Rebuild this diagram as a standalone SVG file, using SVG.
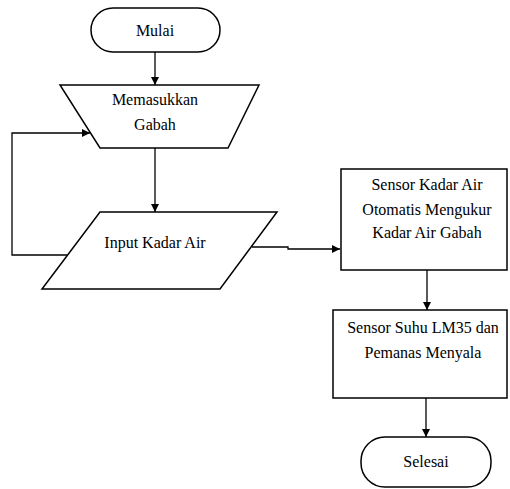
<svg xmlns="http://www.w3.org/2000/svg" width="510" height="489" viewBox="0 0 510 489">
<style>
.s{fill:#fff;stroke:#000;stroke-width:1.5}
.c{fill:none;stroke:#000;stroke-width:1.3}
text{font-family:"Liberation Serif","DejaVu Serif",serif;font-size:16px;fill:#000;text-anchor:middle}
</style>
<defs>
<marker id="ah" viewBox="0 0 10 10" refX="10" refY="5" markerWidth="8" markerHeight="8" markerUnits="userSpaceOnUse" orient="auto">
<path d="M0,0 L10,5 L0,10 Z" fill="#000"/>
</marker>
</defs>
<rect width="510" height="489" fill="#fff"/>
<g id="connectors">
<line class="c" x1="155" y1="52" x2="155" y2="85" marker-end="url(#ah)"/>
<line class="c" x1="155" y1="148" x2="155" y2="212" marker-end="url(#ah)"/>
<polyline class="c" points="67,255 12,255 12,133 90,133" marker-end="url(#ah)"/>
<polyline class="c" points="252,247 288,247 288,249 340,249" marker-end="url(#ah)"/>
<line class="c" x1="427" y1="270" x2="427" y2="310" marker-end="url(#ah)"/>
<line class="c" x1="426" y1="398" x2="426" y2="437" marker-end="url(#ah)"/>
</g>
<g id="mulai">
<rect class="s" x="91" y="8" width="129" height="44" rx="22"/>
<text x="155" y="36">Mulai</text>
</g>
<g id="memasukkan">
<polygon class="s" points="60,85 259,85 228,148 100,148"/>
<text x="155" y="105">Memasukkan</text>
<text x="155" y="130">Gabah</text>
</g>
<g id="input">
<polygon class="s" points="100,212 277,212 220,289 42,289"/>
<text x="155" y="248">Input Kadar Air</text>
</g>
<g id="sensor-kadar">
<rect class="s" x="341" y="169" width="166" height="101"/>
<text x="427" y="190">Sensor Kadar Air</text>
<text x="427" y="215">Otomatis Mengukur</text>
<text x="427" y="238">Kadar Air Gabah</text>
</g>
<g id="sensor-suhu">
<rect class="s" x="333" y="310" width="174" height="88"/>
<text x="423" y="333">Sensor Suhu LM35 dan</text>
<text x="423" y="358">Pemanas Menyala</text>
</g>
<g id="selesai">
<rect class="s" x="361" y="437" width="130" height="50" rx="24"/>
<text x="426" y="467">Selesai</text>
</g>
</svg>
